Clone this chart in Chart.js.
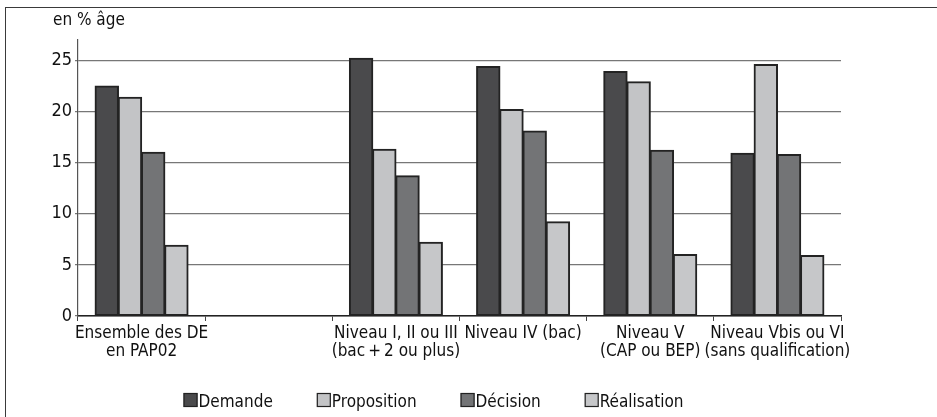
<!DOCTYPE html>
<html>
<head>
<meta charset="utf-8">
<script src="https://cdn.jsdelivr.net/npm/chart.js@4.4.1/dist/chart.umd.min.js"></script>
<style>
  html, body { margin: 0; padding: 0; background: #fff; overflow: hidden; }
  #wrap { position: relative; width: 937px; height: 417px; }
  #frame { position: absolute; left: 5px; top: 7px; right: -10px; bottom: -10px;
           border-left: 1.5px solid #3a3a3a; border-top: 1.5px solid #3a3a3a; }
  canvas { position: absolute; left: 0; top: 0; }
</style>
</head>
<body>
<div id="wrap">
  <div id="frame"></div>
  <canvas id="c" width="937" height="417"></canvas>
</div>
<script>
const categories = [
  ["Ensemble des DE", "en PAP02"],
  "",
  ["Niveau I, II ou III", "(bac\u2009+\u20092 ou plus)"],
  "Niveau IV (bac)",
  ["Niveau V", "(CAP ou BEP)"],
  ["Niveau Vbis ou VI", "(sans qualification)"]
];
const seriesNames = ["Demande", "Proposition", "Décision", "Réalisation"];
const demande     = [22.5, null, 25.2, 24.4, 23.9, 15.9];
const proposition = [21.4, null, 16.3, 20.2, 22.9, 24.6];
const decision    = [16.0, null, 13.7, 18.1, 16.2, 15.8];
const realisation = [6.9,  null, 7.2,  9.2,  6.0,  5.9];
const yTicks = [0, 5, 10, 15, 20, 25];
const yTitle = "en % âge";

const colors = ["#4a4a4c", "#c3c4c6", "#737476", "#c6c7c9"];
const FONT = "'DejaVu Sans Condensed', 'Liberation Sans Narrow', sans-serif";
const FS = 17;

const extras = {
  id: 'extras',
  afterDraw(chart) {
    const ctx = chart.ctx;
    const area = chart.chartArea;
    ctx.save();
    ctx.font = FS + "px " + FONT;
    ctx.fillStyle = "#111";
    ctx.textBaseline = "alphabetic";
    ctx.textAlign = "left";
    ctx.fillText(yTitle, area.left - 25, 25);
    // legend
    const box = 14, gapText = 1, gapItem = 44;
    let widths = seriesNames.map(n => box + gapText + ctx.measureText(n).width);
    let total = widths.reduce((a, b) => a + b, 0) + gapItem * (widths.length - 1);
    let x = 433.5 - total / 2;
    const yb = 393;
    chart.data.datasets.forEach((ds, i) => {
      ctx.fillStyle = ds.backgroundColor;
      ctx.fillRect(x, yb, box, box);
      ctx.strokeStyle = "#222";
      ctx.lineWidth = 1.2;
      ctx.strokeRect(x + 0.5, yb + 0.5, box - 1, box - 1);
      ctx.fillStyle = "#111";
      ctx.fillText(ds.label, x + box + gapText, yb + box - 0.5);
      x += widths[i] + gapItem;
    });
    ctx.restore();
  }
};

new Chart(document.getElementById('c'), {
  type: 'bar',
  data: {
    labels: categories,
    datasets: [demande, proposition, decision, realisation].map((d, i) => ({
      label: seriesNames[i],
      data: d,
      backgroundColor: colors[i],
      borderColor: "#232323",
      borderWidth: 2,
      borderSkipped: false,
      inflateAmount: 0.6,
      barPercentage: 1.0,
      categoryPercentage: 0.73
    }))
  },
  options: {
    responsive: false,
    animation: false,
    devicePixelRatio: 1,
    layout: { padding: { left: 0, right: 96, top: 40, bottom: 0 } },
    plugins: { legend: { display: false }, tooltip: { enabled: false }, title: { display: false } },
    scales: {
      x: {
        afterFit(s) { s.height = 101; },
        grid: { offset: true, drawOnChartArea: false, tickLength: 5, color: "#444", lineWidth: 1 },
        border: { color: "#222", width: 1.5 },
        ticks: { color: "#111", font: { family: FONT, size: FS, lineHeight: 1.05 }, padding: 4, maxRotation: 0, autoSkip: false }
      },
      y: {
        min: 0, max: 27,
        afterFit(s) { s.width = 78; },
        afterBuildTicks(s) { s.ticks = yTicks.map(v => ({ value: v })); },
        grid: { color: "#777", lineWidth: 1.2, tickLength: 3 },
        border: { color: "#555", width: 1.2 },
        ticks: { color: "#111", font: { family: FONT, size: FS + 1 }, padding: 3 }
      }
    }
  },
  plugins: [extras]
});
</script>
</body>
</html>
